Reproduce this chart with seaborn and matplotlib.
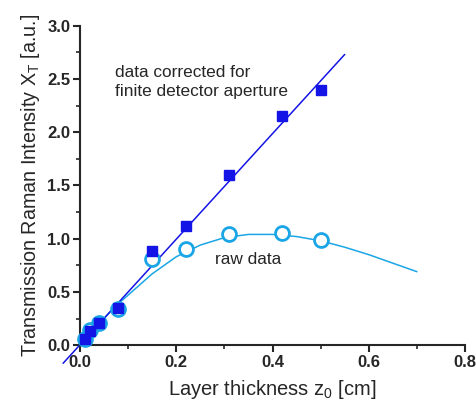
import numpy as np
import pandas as pd
import matplotlib
matplotlib.use("Agg")
import matplotlib.pyplot as plt
import seaborn as sns
from matplotlib.ticker import MultipleLocator

# data
thickness = [0.01, 0.02, 0.04, 0.08, 0.15, 0.22, 0.31, 0.42, 0.50]
corrected = [0.06, 0.13, 0.21, 0.35, 0.88, 1.12, 1.60, 2.15, 2.40]
raw = [0.06, 0.14, 0.21, 0.34, 0.81, 0.90, 1.04, 1.05, 0.99]

fit_line_x = [-0.035, 0.55]
fit_line_y = [-0.17, 2.73]

curve_x = [0.0, 0.02, 0.04, 0.06, 0.08, 0.10, 0.15, 0.20, 0.25, 0.30, 0.35, 0.40, 0.45, 0.50, 0.55, 0.60, 0.65, 0.70]
curve_y = [0.0, 0.10, 0.20, 0.30, 0.39, 0.47, 0.67, 0.83, 0.94, 1.01, 1.04, 1.04, 1.02, 0.98, 0.92, 0.85, 0.77, 0.69]

xtick_labels = ["0.0", "0.2", "0.4", "0.6", "0.8"]
ytick_labels = ["0.0", "0.5", "1.0", "1.5", "2.0", "2.5", "3.0"]

sns.set_style("ticks")
plt.rcParams['font.family'] = ['Liberation Sans', 'DejaVu Sans']
plt.rcParams['mathtext.fontset'] = 'custom'
plt.rcParams['mathtext.rm'] = 'Liberation Sans'
plt.rcParams['mathtext.it'] = 'Liberation Sans'

fig = plt.figure(figsize=(4.76, 4.08), dpi=100)
ax = fig.add_axes([0.168, 0.154, 0.809, 0.783])

blue = "#1414e6"
light = "#1aa6e6"

df_line = pd.DataFrame({"x": fit_line_x, "y": fit_line_y})
df_curve = pd.DataFrame({"x": curve_x, "y": curve_y})
df_pts = pd.DataFrame({"x": thickness, "corr": corrected, "raw": raw})

sns.lineplot(data=df_curve, x="x", y="y", ax=ax, color=light, lw=1.1, sort=False, zorder=2)
sns.lineplot(data=df_line, x="x", y="y", ax=ax, color=blue, lw=1.1, sort=False, zorder=2)
for ln in ax.lines:
    ln.set_clip_on(False)

ax.plot(df_pts["x"], df_pts["raw"], 'o', ms=10, mfc='white', mec=light, mew=2, zorder=3, clip_on=False)
ax.plot(df_pts["x"], df_pts["corr"], 's', ms=7, color=blue, mec=blue, zorder=4, clip_on=False)

ax.set_xlim(0, 0.8)
ax.set_ylim(0, 3.0)
ax.xaxis.set_minor_locator(MultipleLocator(0.1))
ax.yaxis.set_minor_locator(MultipleLocator(0.25))
ax.set_xticks([0, 0.2, 0.4, 0.6, 0.8])
ax.set_xticklabels(xtick_labels)
ax.set_yticks([0, 0.5, 1.0, 1.5, 2.0, 2.5, 3.0])
ax.set_yticklabels(ytick_labels)

sns.despine(ax=ax)
for s in ["left", "bottom"]:
    ax.spines[s].set_linewidth(1.5)
ax.tick_params(which="major", length=5, width=1.5, direction="out", labelsize=12, pad=2)
ax.tick_params(which="minor", length=3, width=1.2, direction="out")
for lab in ax.get_xticklabels() + ax.get_yticklabels():
    lab.set_fontweight("bold")

ax.set_xlabel(r"Layer thickness z$_\mathregular{0}$ [cm]", fontsize=14.5, labelpad=6)
ax.set_ylabel(r"Transmission Raman Intensity X$_\mathregular{T}$ [a.u.]", fontsize=14.2, labelpad=4)

ax.text(0.073, 2.635, "data corrected for\nfinite detector aperture", fontsize=12.4, va="top", ha="left", linespacing=1.35)
ax.text(0.28, 0.80, "raw data", fontsize=12.4, va="center", ha="left")

fig.savefig("out.png", dpi=100)
